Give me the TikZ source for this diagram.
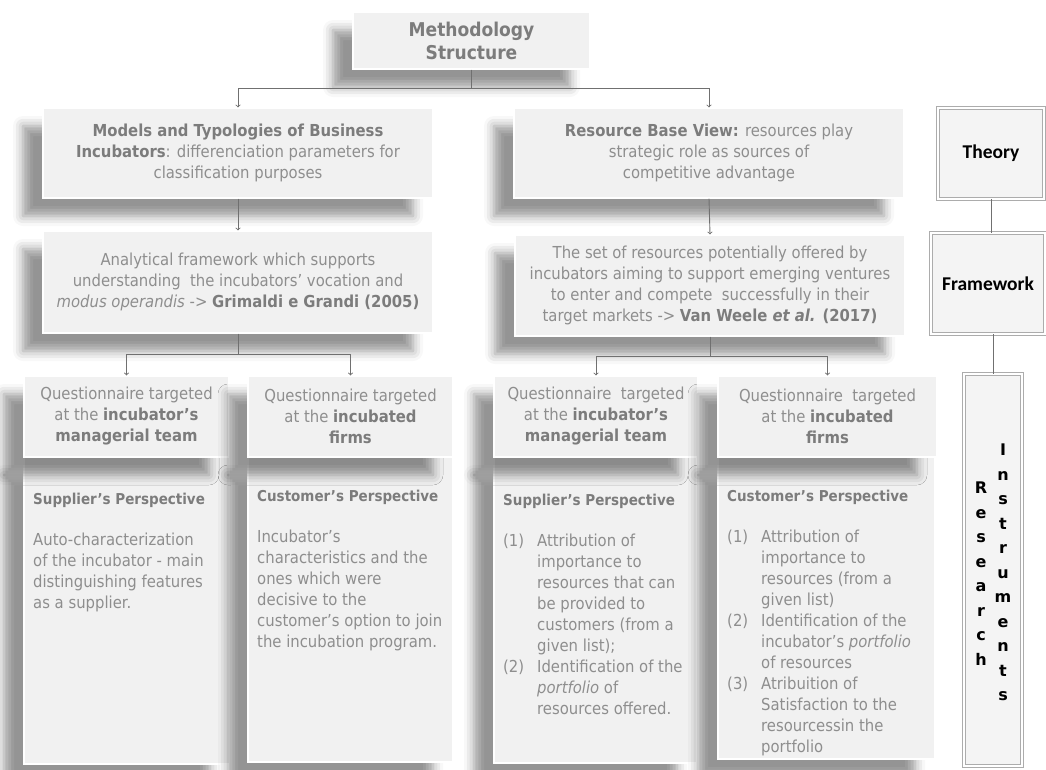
\documentclass[tikz,border=0pt]{standalone}
\usepackage{fontspec}
\setmainfont{DejaVu Sans Condensed}
\newfontfamily\sidefont{Carlito}
\newfontfamily\letterfont{DejaVu Sans}
\usetikzlibrary{arrows, calc, positioning, shadows.blur}

\definecolor{boxgray}{HTML}{F1F1F1}
\definecolor{txtgray}{HTML}{8E8E8E}
\definecolor{boldgray}{HTML}{7C7C7C}
\definecolor{linegray}{HTML}{707070}
\definecolor{sidegray}{HTML}{F4F4F4}

\newcommand{\bt}[1]{\textbf{\color{boldgray}#1}}
\newcommand{\hd}[1]{{\fontsize{15}{21}\selectfont\bt{#1}}}
\newcommand{\itm}[1]{\makebox[34pt][l]{#1}}
\newcommand{\ind}{\hspace*{34pt}}

\begin{document}
\begin{tikzpicture}[x=1pt, y=-1pt, >=to,
  wh/.style 2 args = {minimum width=#1pt, minimum height=#2pt},
  gbox/.style = {rectangle, fill=boxgray, draw=white, line width=1.2pt, inner sep=0pt,
    align=center, text=txtgray, font=\fontsize{16.5}{21}\selectfont,
    blur shadow={shadow xshift=-20pt, shadow yshift=-18pt, shadow blur radius=10pt, shadow opacity=42}},
  body/.style = {anchor=north west, inner sep=0pt, align=left, text=txtgray,
    font=\fontsize{16.5}{21}\selectfont},
  sidebox/.style = {rectangle, fill=sidegray, draw=gray!65, line width=0.6pt, double=white, double distance=2.5pt,
    inner sep=0pt, font=\sidefont\fontsize{19.5}{20}\selectfont\bfseries},
  letters/.style = {inner sep=0pt, align=center, font=\letterfont\fontsize{16}{24.5}\selectfont\bfseries},
  conn/.style = {draw=linegray, line width=0.9pt}]

  \useasboundingbox (0,0) rectangle (1046,769);

  % top level
  \node[gbox, wh={237}{57}, font=\fontsize{19}{23}\selectfont\bfseries, text=boldgray]
    (title) at (471.5,40.5) {Methodology\\Structure};

  % theory
  \node[gbox, wh={390}{90}] (mtb) at (238,153)
    {\bt{Models and Typologies of Business}\\\bt{Incubators}: differenciation parameters for\\classification purposes};
  \node[gbox, wh={390}{90}] (rbv) at (709,153)
    {\bt{Resource Base View:} resources play\\strategic role as sources of\\competitive advantage};

  % framework
  \node[gbox, wh={390}{102}] (gg) at (238,282)
    {Analytical framework which supports\\understanding~ the incubators’ vocation and\\\textit{modus operandis} -> \bt{Grimaldi e Grandi (2005)}};
  \node[gbox, wh={390}{101}] (vw) at (710,285.5)
    {The set of resources potentially offered by\\incubators aiming to support emerging ventures\\to enter and compete~ successfully in their\\target markets -> \bt{Van Weele \textit{et al.} (2017)}};

  % perspectives
  \node[gbox, wh={206}{307}] (p1) at (127,610.5) {};
  \node[gbox, wh={205}{305}] (p2) at (350.5,609.5) {};
  \node[gbox, wh={203}{306}] (p3) at (595.5,610) {};
  \node[gbox, wh={217}{302}] (p4) at (826.5,608) {};

  % questionnaires
  \node[gbox, wh={205}{81}] (q1) at (126.5,416.5)
    {Questionnaire targeted\\at the \bt{incubator’s}\\\bt{managerial team}};
  \node[gbox, wh={205}{81}] (q2) at (350.5,416.5)
    {Questionnaire targeted\\at the \bt{incubated}\\\bt{firms}};
  \node[gbox, wh={204}{81}] (q3) at (596,416.5)
    {Questionnaire~ targeted\\at the \bt{incubator’s}\\\bt{managerial team}};
  \node[gbox, wh={219}{81}] (q4) at (827.5,416.5)
    {Questionnaire~ targeted\\at the \bt{incubated}\\\bt{firms}};

  \node[body] (p1t) at (33,493)
    {\hd{Supplier’s Perspective}\\[20pt]
     Auto-characterization\\of the incubator - main\\distinguishing features\\as a supplier.};
  \node[body] (p2t) at (257,490)
    {\hd{Customer’s Perspective}\\[20pt]
     Incubator’s\\characteristics and the\\ones which were\\decisive to the\\customer’s option to join\\the incubation program.};
  \node[body] (p3t) at (503,494)
    {\hd{Supplier’s Perspective}\\[20pt]
     \itm{(1)}Attribution of\\\ind importance to\\\ind resources that can\\\ind be provided to\\\ind customers (from a\\\ind given list);\\
     \itm{(2)}Identification of the\\\ind \textit{portfolio} of\\\ind resources offered.};
  \node[body] (p4t) at (727,490)
    {\hd{Customer’s Perspective}\\[20pt]
     \itm{(1)}Attribution of\\\ind importance to\\\ind resources (from a\\\ind given list)\\
     \itm{(2)}Identification of the\\\ind incubator’s \textit{portfolio}\\\ind of resources\\
     \itm{(3)}Atribuition of\\\ind Satisfaction to the\\\ind resourcessin the\\\ind portfolio};

  % side labels
  \node[sidebox, wh={106}{91}] (theory) at (991,153.5) {Theory};
  \node[sidebox, wh={114}{101}] (fw) at (988,283.5) {Framework};
  \node[sidebox, wh={58}{392}] (ri) at (993,570) {};
  \node[letters] (res) at (981,573.5) {R\\e\\s\\e\\a\\r\\c\\h};
  \node[letters] (ins) at (1003,572.5) {I\\n\\s\\t\\r\\u\\m\\e\\n\\t\\s};

  % connectors
  \draw[conn] (title.south) -- ++(0,19) coordinate (j0);
  \draw[conn, ->] (j0) -| (mtb.north);
  \draw[conn, ->] (j0) -| (rbv.north);
  \draw[conn, ->] (mtb.south) -- (gg.north);
  \draw[conn, ->] (rbv.south) -- (vw.north);
  \draw[conn] (gg.south) -- ++(0,21) coordinate (j1);
  \draw[conn, ->] (j1) -| (q1.north);
  \draw[conn, ->] (j1) -| (q2.north);
  \draw[conn] (vw.south) -- ++(0,19.5) coordinate (j2);
  \draw[conn, ->] (j2) -| (q3.north);
  \draw[conn, ->] (j2) -| (q4.north);
  \draw[conn, line width=0.6pt] (theory.south) -- (theory.south |- fw.north);
  \draw[conn, line width=0.6pt] (fw.south -| ri.north) -- (ri.north);
\end{tikzpicture}
\end{document}
